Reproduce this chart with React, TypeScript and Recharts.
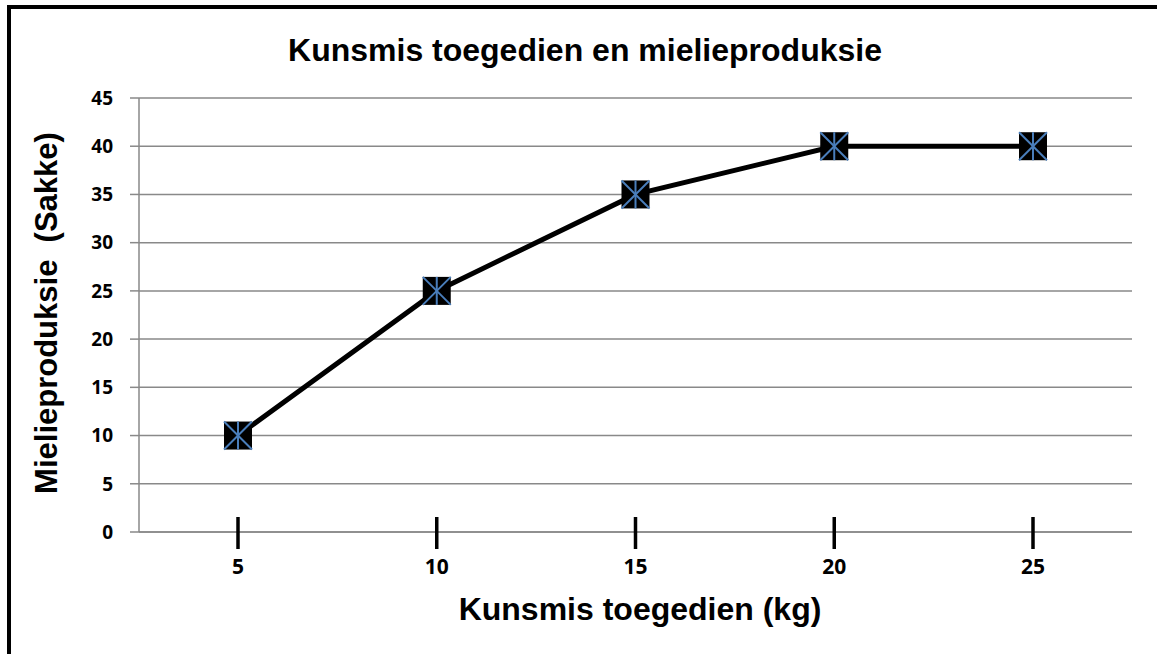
import React from "react";
import { LineChart, Line, XAxis, YAxis, CartesianGrid } from "recharts";

// kunsmis toegedien (kg) en mielieproduksie (sakke)
const kunsmis = [5, 10, 15, 20, 25];
const sakke = [10, 25, 35, 40, 40];
const yTicks = [0, 5, 10, 15, 20, 25, 30, 35, 40, 45];

const title = "Kunsmis toegedien en mielieproduksie";
const xTitle = "Kunsmis toegedien (kg)";
const yTitle = "Mielieproduksie  (Sakke)";

const data = kunsmis.map((kg, i) => ({ kg: String(kg), sakke: sakke[i] }));

const W = 1157;
const H = 654;
const GRID = "#898989";
const HEAD = "'Liberation Sans', Arial, sans-serif";
const TICK = "'Open Sans', sans-serif";

function Marker(props: any) {
  const { cx, cy } = props;
  if (cx == null || cy == null) return null;
  const s = 14;
  return (
    <g>
      <rect x={cx - s} y={cy - s} width={s * 2} height={s * 2} fill="#000" />
      <line x1={cx} y1={cy - s} x2={cx} y2={cy + s} stroke="#4a7ebb" strokeWidth={2} />
      <line x1={cx - s} y1={cy - s} x2={cx + s} y2={cy + s} stroke="#4a7ebb" strokeWidth={2} />
      <line x1={cx - s} y1={cy + s} x2={cx + s} y2={cy - s} stroke="#4a7ebb" strokeWidth={2} />
    </g>
  );
}

function XTick(props: any) {
  const { x, y, payload } = props;
  return (
    <g>
      <line x1={x} y1={y - 15} x2={x} y2={y + 17} stroke="#000" strokeWidth={3.5} />
      <text
        x={x}
        y={y + 42}
        textAnchor="middle"
        fontFamily={TICK}
        fontWeight={700}
        fontSize={21}
        fill="#000"
      >
        {payload.value}
      </text>
    </g>
  );
}

export default function App() {
  return (
    <div
      style={{
        position: "absolute",
        left: 0,
        top: 0,
        width: W,
        height: H,
        overflow: "hidden",
        background: "#fff",
      }}
    >
      <div
        style={{
          position: "absolute",
          left: 7,
          top: 5,
          width: W + 20,
          height: H + 20,
          borderLeft: "4px solid #000",
          borderTop: "4px solid #000",
        }}
      />
      <LineChart
        width={W}
        height={H}
        data={data}
        margin={{ top: 98, right: 25, bottom: 0, left: 0 }}
        style={{ position: "absolute", left: 0, top: 0 }}
      >
        <CartesianGrid vertical={false} stroke={GRID} strokeWidth={1.5} />
        <XAxis
          dataKey="kg"
          height={122}
          padding={{ left: 99, right: 99 }}
          axisLine={{ stroke: GRID, strokeWidth: 1.5 }}
          tickLine={false}
          tickSize={0}
          tickMargin={0}
          tick={<XTick />}
          interval={0}
        />
        <YAxis
          width={139}
          domain={[0, 45]}
          ticks={yTicks}
          interval={0}
          axisLine={{ stroke: GRID, strokeWidth: 1.5 }}
          tickLine={{ stroke: GRID, strokeWidth: 1.5 }}
          tickSize={9}
          tickMargin={17}
          tick={{ fontFamily: TICK, fontWeight: 700, fontSize: 19, fill: "#000" }}
        />
        <Line
          type="linear"
          dataKey="sakke"
          stroke="#000"
          strokeWidth={5}
          dot={<Marker />}
          activeDot={false}
          isAnimationActive={false}
        />
      </LineChart>
      <svg
        width={W}
        height={H}
        style={{ position: "absolute", left: 0, top: 0, pointerEvents: "none" }}
      >
        <text
          x={585}
          y={61}
          textAnchor="middle"
          fontFamily={HEAD}
          fontWeight={700}
          fontSize={32}
          fill="#000"
        >
          {title}
        </text>
        <text
          x={640}
          y={620}
          textAnchor="middle"
          fontFamily={HEAD}
          fontWeight={700}
          fontSize={32}
          fill="#000"
        >
          {xTitle}
        </text>
        <text
          transform="translate(57, 313) rotate(-90)"
          textAnchor="middle"
          fontFamily={HEAD}
          fontWeight={700}
          fontSize={31}
          fill="#000"
          style={{ whiteSpace: "pre" }}
        >
          {yTitle}
        </text>
      </svg>
    </div>
  );
}
